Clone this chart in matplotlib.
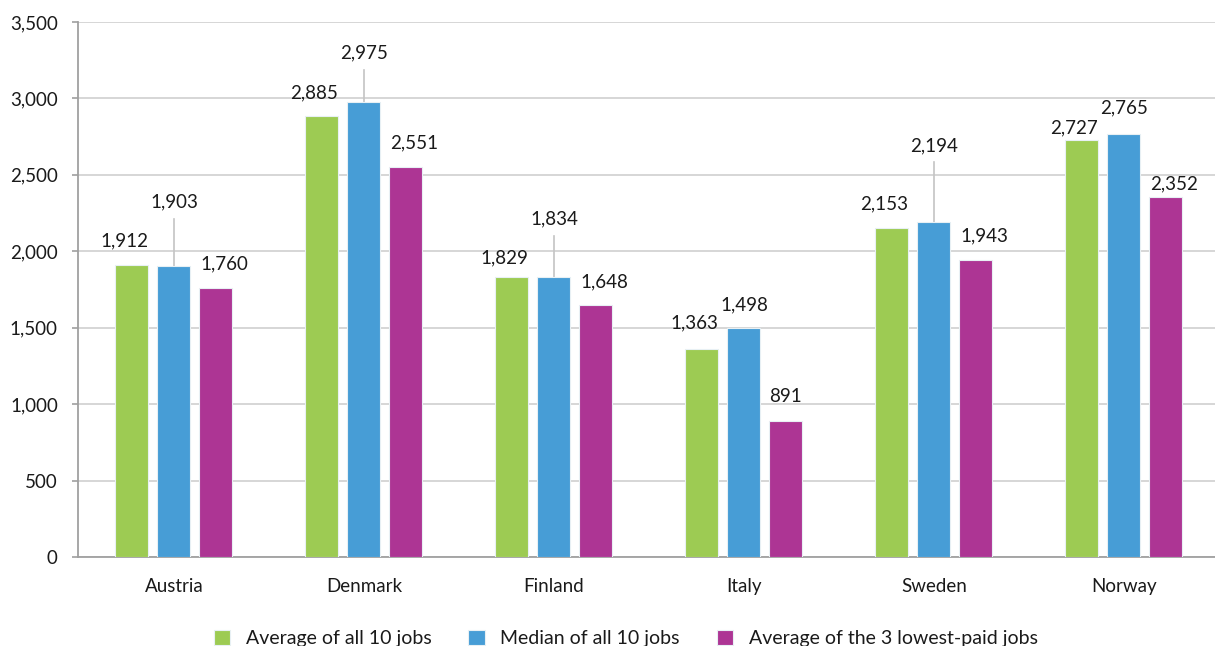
import numpy as np
import matplotlib.pyplot as plt

plt.rcParams['font.family'] = ['Lato', 'DejaVu Sans']

countries = ['Austria', 'Denmark', 'Finland', 'Italy', 'Sweden', 'Norway']
series_names = ['Average of all 10 jobs', 'Median of all 10 jobs',
                'Average of the 3 lowest-paid jobs']
avg_all = [1912, 2885, 1829, 1363, 2153, 2727]
median_all = [1903, 2975, 1834, 1498, 2194, 2765]
avg_low3 = [1760, 2551, 1648, 891, 1943, 2352]

# where the value labels sit (data y) and which ones get a leader line
label_y_avg = [2067, 3036, 1956, 1531, 2309, 2807]
label_y_med = [2322, 3297, 2211, 1649, 2689, 2937]
label_y_low = [1917, 2708, 1799, 1047, 2100, 2440]
leader_med = [True, True, True, False, True, False]

colors = ['#9DCB53', '#479DD6', '#AD3594']
text_c = '#1a1a1a'

fig = plt.figure(figsize=(12.15, 6.46), dpi=100)
ax = fig.add_axes([78 / 1215, 89 / 646, 1140 / 1215, 535 / 646])

x = np.arange(len(countries))
w = 0.174
off = 0.221
series = [avg_all, median_all, avg_low3]
for i, (vals, c, name) in enumerate(zip(series, colors, series_names)):
    ax.bar(x + (i - 1) * off, vals, w, color=c, edgecolor='#e8f0f4',
           linewidth=0.8, label=name, zorder=3)

lab_dx = [-0.263, 0.0, 0.263]
label_ys = [label_y_avg, label_y_med, label_y_low]
for i in range(3):
    for j in range(len(countries)):
        dx = lab_dx[i]
        if i == 2 and countries[j] == 'Italy':
            dx = off
        ax.text(x[j] + dx, label_ys[i][j], f'{series[i][j]:,}', ha='center',
                va='center', fontsize=13.5, color=text_c, zorder=5)
for j in range(len(countries)):
    if leader_med[j]:
        ax.plot([x[j], x[j]], [median_all[j], label_y_med[j] - 108],
                color='#c4c4c4', lw=1.2, zorder=2)

ax.set_xlim(-0.505, 5.495)
ax.set_ylim(0, 3500)
ax.set_yticks(np.arange(0, 3501, 500))
ax.set_yticklabels([f'{v:,}' for v in range(0, 3501, 500)])
ax.set_xticks(x)
ax.set_xticklabels(countries)
ax.grid(axis='y', color='#cfcfcf', lw=1.2, zorder=0)
for s in ['top', 'right']:
    ax.spines[s].set_visible(False)
ax.spines['left'].set_color('#a0a0a0')
ax.spines['left'].set_linewidth(1.3)
ax.spines['bottom'].set_color('#a0a0a0')
ax.spines['bottom'].set_linewidth(1.3)
ax.tick_params(axis='y', length=4.5, width=1.2, color='#a0a0a0', pad=10,
               labelsize=13.5, labelcolor=text_c)
ax.tick_params(axis='x', length=0, pad=15, labelsize=13.5, labelcolor=text_c)

fig.legend(loc='center', bbox_to_anchor=(0.515, 0.012), ncol=3, frameon=False,
           fontsize=14, handlelength=0.85, handleheight=0.85,
           columnspacing=1.9, handletextpad=0.8, labelcolor=text_c)

fig.savefig('out.png', dpi=100)
